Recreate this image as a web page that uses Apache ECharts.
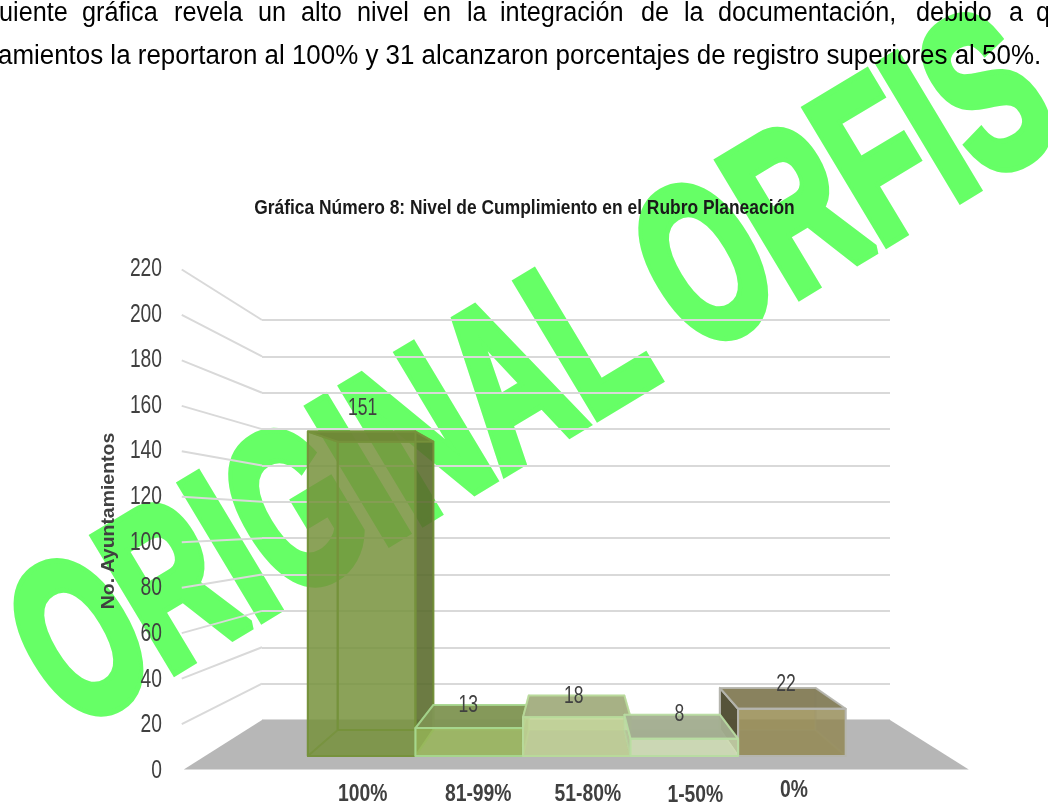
<!DOCTYPE html>
<html><head><meta charset="utf-8">
<style>html,body{margin:0;padding:0;background:#fff}#c{width:1048px;height:806px}</style>
<script src="https://cdn.jsdelivr.net/npm/echarts@6/dist/echarts.min.js"></script>
</head><body><div id="c"></div>
<script>
const categories = ['100%', '81-99%', '51-80%', '1-50%', '0%'];
const values = [151, 13, 18, 8, 22];
const yTicks = [0, 20, 40, 60, 80, 100, 120, 140, 160, 180, 200, 220];
const titleText = 'Gráfica Número 8: Nivel de Cumplimiento en el Rubro Planeación';
const yName = 'No. Ayuntamientos';
const watermark = 'ORIGINAL ORFIS';
const line1Words = ['uiente','gráfica','revela','un','alto','nivel','en','la','integración','de','la','documentación,','debido','a','q'];
const line1X = [-1,82,174,258,301,357,423,467,500,641,684,718,916,1009,1036];
const line2 = 'amientos la reportaron al 100% y 31 alcanzaron porcentajes de registro superiores al 50%.';

const frontFill = ['#76923c','#9bbb59','#c3d694','#d7e5ba','#968a51'];
const topFill = ['#6f8636','#7e9353','#a2ab7f','#a3ae90','#827c57'];
const sideFill = ['#56662a','#8fb060','#b5c98c','#c5d3a8','#4f4c33'];
const edge = ['#76923c','#a6d68d','#b8da9a','#b8dca2','#b5b5ae'];
const drawOrder = [1,2,3,5,4];
const labelDx = [1,9,11,11,2];
const labelDy = [0,0,0,1,-4];
const valueDx = [1,-1,-3,-5,-6];
const valueDy = [1,1,3,0,0];

const BODY = '"Liberation Sans",Arial,sans-serif';
const CX = 575, CY = 522, S_FLOOR = 1.25, S_BACK = 1.05, S_FRONT = 1.182;
const proj = (p, s) => [CX + (p[0]-CX)*s, CY + (p[1]-CY)*s];
const poly = (pts, fill, stroke, opacity, z2) => ({
  type:'polygon', z2: z2, shape:{points:pts},
  style:{fill:fill, stroke:stroke||null, lineWidth:stroke?2:0, opacity:opacity==null?1:opacity, lineJoin:'round'}
});

const graphics = [{
  type:'text', z:-10, silent:true, x:537, y:380, rotation:31*Math.PI/180, scaleX:0.627,
  style:{text:watermark, fill:'#66ff66', stroke:'#66ff66', lineWidth:11, lineJoin:'miter', font:'bold 225px '+BODY, align:'center', verticalAlign:'middle'}
}];
line1Words.forEach((w,i)=>graphics.push({
  type:'text', z:100, silent:true, x:line1X[i], y:14, scaleX:0.935,
  style:{text:w, fill:'#000', font:'27px '+BODY, align:'left', verticalAlign:'middle'}
}));
graphics.push({type:'text', z:100, silent:true, x:-2, y:57, scaleX:0.96,
  style:{text:line2, fill:'#000', font:'27px '+BODY, align:'left', verticalAlign:'middle'}});
graphics.push({type:'text', z:100, silent:true, x:524.5, y:208, scaleX:0.87,
  style:{text:titleText, fill:'#1a1a1a', font:'bold 20px '+BODY, align:'center', verticalAlign:'middle'}});
graphics.push({type:'text', z:100, silent:true, x:109, y:521, rotation:Math.PI/2, scaleX:1.08,
  style:{text:yName, fill:'#404040', font:'bold 18px '+BODY, align:'center', verticalAlign:'middle'}});

const chart = echarts.init(document.getElementById('c'), null, {renderer:'canvas'});
chart.setOption({
  animation:false,
  backgroundColor:'#fff',
  graphic:graphics,
  grid:[
    {left:262, width:628, top:320, height:400},
    {left:349, width:455, top:320, height:400},
    {left:185, width:782, top:268, height:502}
  ],
  xAxis:[
    {gridIndex:0, type:'category', data:categories, show:false},
    {gridIndex:1, type:'category', data:categories, show:false},
    {gridIndex:2, type:'category', data:categories, show:false}
  ],
  yAxis:[
    {gridIndex:0, type:'value', min:0, max:220, interval:20, axisLine:{show:false}, axisTick:{show:false}, axisLabel:{show:false},
      splitLine:{show:true, lineStyle:{color:'#d9d9d9', width:2}}},
    {gridIndex:1, type:'value', min:0, max:220, interval:20, show:false},
    {gridIndex:2, type:'value', min:0, max:220, interval:20, show:false}
  ],
  series:[
    {type:'custom', xAxisIndex:0, yAxisIndex:0, coordinateSystem:'cartesian2d', z:1, silent:true,
      data:yTicks.filter(v=>v>0).map(v=>[0,v]),
      clip:false,
      renderItem:(p,api)=>{
        const band = api.size([1,0])[0];
        const b = api.coord([0, api.value(1)]);
        const back = [b[0]-band/2, b[1]];
        const front = proj(back, S_FLOOR);
        return {type:'line', shape:{x1:front[0]-2,y1:front[1],x2:back[0],y2:back[1]},
          style:{stroke:'#d9d9d9', lineWidth:2}};
      }},
    {type:'custom', xAxisIndex:2, yAxisIndex:2, coordinateSystem:'cartesian2d', z:5, silent:true,
      data:yTicks.map(v=>[0,v]), clip:false,
      renderItem:(p,api)=>{
        const band = api.size([1,0])[0];
        const c = api.coord([0, api.value(1)]);
        return {type:'text', x:c[0]-band/2-23, y:c[1]+1, scaleX:0.77,
          style:{text:String(api.value(1)), font:'25px '+BODY, fill:'#404040', align:'right', verticalAlign:'middle'}};
      }},
    {type:'custom', xAxisIndex:0, yAxisIndex:0, coordinateSystem:'cartesian2d', z:2, silent:true,
      data:[[0,0]], clip:false,
      renderItem:(p,api)=>{
        const band = api.size([1,0])[0];
        const l = api.coord([0,0]), r = api.coord([categories.length-1,0]);
        const bl = [l[0]-band/2,l[1]], br = [r[0]+band/2,r[1]];
        return poly([bl,br,proj(br,S_FLOOR),proj(bl,S_FLOOR)],'#b7b7b7');
      }},
    {type:'custom', xAxisIndex:1, yAxisIndex:1, coordinateSystem:'cartesian2d', z:3, silent:true,
      clip:false,
      data:categories.map((c,i)=>[c,values[i]]),
      renderItem:(p,api)=>{
        const i = p.dataIndex, v = api.value(1);
        const band = api.size([1,0])[0];
        const top = api.coord([i,v]), base = api.coord([i,0]);
        const xl = top[0]-band/2, xr = top[0]+band/2;
        const P = (x,y,s)=>proj([x,y],s);
        const fTL=P(xl,top[1],S_FRONT), fTR=P(xr,top[1],S_FRONT), fBL=P(xl,base[1],S_FRONT), fBR=P(xr,base[1],S_FRONT);
        const bTL=P(xl,top[1],S_BACK), bTR=P(xr,top[1],S_BACK), bBL=P(xl,base[1],S_BACK), bBR=P(xr,base[1],S_BACK);
        const z = drawOrder[i]*10;
        const isFirst = i===0, isLast = i===4;
        const e = edge[i], f = frontFill[i];
        const kids = [
          poly([bTL,bTR,bBR,bBL], f, null, 0.45, z),
          poly([bBL,bBR,fBR,fBL], topFill[i], null, 0.45, z+1),
          poly([bTL,bTR,bBR,bBL], 'none', e, isFirst?1:0.2, z+1),
          poly([fTR,bTR,bBR,fBR], sideFill[i], e, isFirst?0.8:0.25, z+2),
          isFirst ? poly([fTL,bTL,bBL,fBL], f, null, 0.45, z+2)
                  : poly([fTL,bTL,bBL,fBL], sideFill[i], e, isLast?0.95:0.25, z+2),
          poly([fTL,bTL,bBL,fBL], 'none', e, isFirst?0.8:(isLast?1:0.25), z+2),
          poly([fTL,fTR,fBR,fBL], f, null, 0.72, z+3),
          poly([fTL,fTR,bTR,bTL], topFill[i], e, 0.92, z+4),
          poly([fTL,fTR,fBR,fBL], 'none', e, 1, z+5),
          {type:'text', z2:200, x:(fTL[0]+fTR[0])/2+valueDx[i], y:fTL[1]-24+valueDy[i], scaleX:0.73,
            style:{text:String(v), font:'24px '+BODY, fill:'#404040', align:'center', verticalAlign:'middle'}},
          {type:'text', z2:200, x:(fBL[0]+fBR[0])/2+labelDx[i], y:795+labelDy[i], scaleX:0.84,
            style:{text:categories[i], font:'bold 23px '+BODY, fill:'#404040', align:'center', verticalAlign:'middle'}}
        ];
        return {type:'group', children:kids};
      }}
  ]
});
</script></body></html>
